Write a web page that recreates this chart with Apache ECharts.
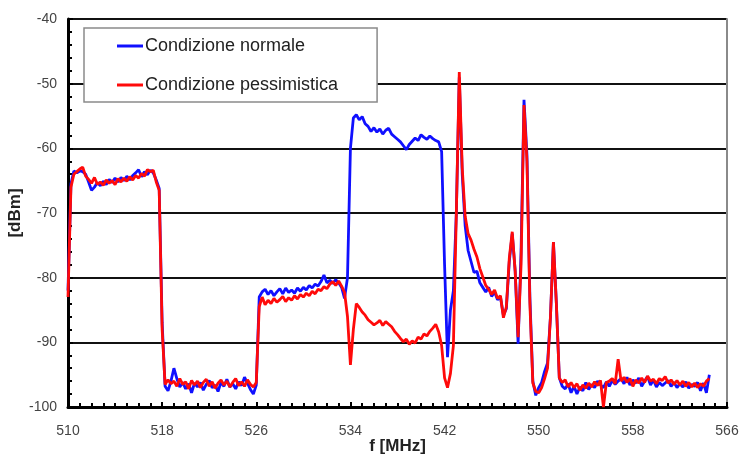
<!DOCTYPE html>
<html>
<head>
<meta charset="utf-8">
<script src="https://cdn.jsdelivr.net/npm/echarts@6/dist/echarts.min.js"></script>
<style>
html,body{margin:0;padding:0;background:#fff;}
#chart{width:741px;height:454px;}
</style>
</head>
<body>
<div id="chart"></div>
<script>
// Frequency axis values (MHz), step 0.25
var freqStart = 510, freqStep = 0.25;
var xTicks = [510, 518, 526, 534, 542, 550, 558, 566];
var yTicks = [-100, -90, -80, -70, -60, -50, -40];
var seriesNames = ['Condizione normale', 'Condizione pessimistica'];

// Condizione pessimistica (red)
var redVals = [
-83,-66,-64,-63.6,-63.2,-62.9,-64.3,-64.8,-65.4,-64.5,-65.6,-65.2,-65.7,-64.9,-65.4,-65.0,
-65.6,-64.7,-65.2,-64.6,-65.1,-64.4,-64.9,-64.2,-64.6,-63.9,-64.3,-63.3,-63.6,-63.4,-65.2,-66.5,
-88,-96.5,-95.8,-96.4,-96.0,-96.8,-95.6,-96.5,-96.1,-97.2,-95.9,-96.6,-96.0,-97.0,-96.2,-95.7,
-96.8,-96.1,-97.1,-96.3,-95.8,-96.6,-96.0,-96.9,-96.2,-95.6,-96.7,-96.1,-96.8,-95.8,-96.5,-96.9,
-96.2,-84.5,-83.0,-84.2,-83.5,-84.0,-83.2,-83.8,-83.4,-82.9,-83.7,-83.1,-83.5,-82.8,-83.3,-82.6,
-83.0,-82.4,-82.8,-82.1,-82.5,-81.8,-82.0,-81.4,-81.7,-81.0,-80.6,-81.2,-80.5,-81.3,-82.3,-86,
-93.5,-88,-84.0,-84.6,-85.3,-85.8,-86.5,-86.9,-87.3,-87.0,-86.6,-87.4,-86.8,-87.2,-87.6,-88.3,
-88.8,-89.4,-89.9,-89.5,-90.3,-89.8,-90.1,-89.2,-89.5,-88.7,-89.0,-88.3,-87.8,-87.2,-88.4,-90.5,
-95.5,-97.0,-94.8,-90.5,-70,-48.2,-63,-70.5,-73.2,-74.2,-75.6,-76.8,-78.6,-79.9,-81.2,-81.8,
-82.6,-81.9,-83.2,-82.8,-86.2,-84.5,-77,-72.9,-79,-89.2,-78,-53.3,-62,-84,-96.3,-97.6,
-97.8,-97.0,-95.6,-94.0,-86,-74.5,-84,-95.5,-96.2,-95.8,-96.9,-96.2,-97.0,-96.4,-97.4,-96.6,
-97.1,-96.3,-96.9,-96.1,-96.7,-95.9,-100,-96.2,-96.0,-95.6,-96.4,-92.6,-96.0,-95.4,-96.2,-95.6,
-96.8,-95.8,-96.3,-95.5,-96.2,-95.2,-96.0,-95.7,-96.4,-95.6,-95.9,-95.3,-96.3,-95.8,-96.5,-95.9,
-96.6,-96.0,-96.8,-96.2,-96.9,-96.3,-97.0,-96.4,-96.8,-96.0,-95.6
];

// Condizione normale (blue)
var blueVals = [
-82,-65.5,-63.5,-63.8,-63.5,-63.6,-64,-65.2,-66.5,-66,-65.3,-65.8,-65.1,-65.6,-64.8,-65.3,
-64.6,-65.2,-64.5,-65.0,-64.3,-64.9,-64.2,-63.8,-63.3,-64.4,-63.6,-64.1,-63.4,-63.8,-64.9,-66.2,
-87,-96.8,-97.5,-96.0,-94.0,-95.6,-96.9,-96.2,-97.2,-96.4,-97.8,-96.3,-96.9,-96.2,-97.4,-96.5,
-95.9,-97.0,-96.6,-97.6,-96.2,-96.8,-95.7,-96.9,-96.4,-97.2,-96.1,-96.7,-95.4,-96.3,-97.3,-98.0,
-96.6,-83,-82.2,-81.8,-82.6,-82.0,-82.8,-82.2,-81.7,-82.5,-81.6,-82.3,-81.9,-82.4,-81.6,-82.1,
-81.5,-81.9,-81.2,-81.6,-81.0,-81.3,-80.6,-79.6,-80.8,-80.4,-80.9,-80.3,-80.8,-81.5,-83.2,-80,
-60,-55.3,-54.8,-55.6,-55.1,-56.2,-56.6,-57.4,-56.8,-57.5,-57.0,-57.8,-57.2,-56.9,-57.8,-58.2,
-58.6,-59.0,-59.6,-60.2,-59.4,-58.9,-58.4,-58.8,-57.9,-58.3,-58.6,-58.1,-58.5,-58.8,-59.0,-60.5,
-78,-92.3,-85,-82,-70,-49,-64,-72,-75.8,-77.5,-79.2,-79.0,-80.8,-81.5,-82.2,-81.5,
-82.9,-82.2,-83.4,-83.0,-85.8,-84.8,-77.5,-73.2,-79,-90.2,-76,-52.5,-61,-83,-96.0,-98.2,
-97.0,-96.2,-94.5,-93.2,-86,-74.5,-84,-95.5,-96.8,-97.2,-96.4,-97.8,-96.8,-98.0,-96.9,-97.5,
-96.2,-97.3,-96.5,-97.0,-96.0,-96.6,-97.0,-96.1,-96.8,-95.9,-96.5,-96.0,-95.6,-96.4,-95.4,-96.6,
-95.8,-96.3,-95.5,-96.8,-96.0,-95.3,-96.6,-95.8,-96.9,-96.2,-96.7,-96.3,-95.9,-96.8,-96.2,-97.0,
-96.4,-96.9,-96.1,-97.1,-96.5,-96.8,-96.2,-97.5,-96.3,-97.8,-95.0
];

function pairs(vals){
  return vals.map(function(v,i){ return [freqStart + i*freqStep, v]; });
}

var chart = echarts.init(document.getElementById('chart'), null, {renderer:'canvas'});
var labelFont = {color:'#444', fontSize:14, fontFamily:'Liberation Sans, Arial, sans-serif'};
chart.setOption({
  animation:false,
  backgroundColor:'#fff',
  grid:{left:68, right:14, top:19, bottom:47, containLabel:false, outerBoundsMode:'none'},
  legend:{
    orient:'vertical', left:84, top:28,
    data:seriesNames,
    backgroundColor:'#fff', borderColor:'#8a8a8a', borderWidth:1.5,
    padding:[9,39,8,33], itemGap:21,
    icon:'rect', itemWidth:26, itemHeight:3,
    textStyle:{color:'#222', fontSize:18, fontFamily:'Liberation Sans, Arial, sans-serif', padding:[0,0,0,-3]}
  },
  xAxis:{
    type:'value', min:xTicks[0], max:xTicks[xTicks.length-1], interval:8,
    name:'f [MHz]', nameLocation:'middle', nameGap:39, nameMoveOverlap:false,
    nameTextStyle:{color:'#222', fontSize:17, fontWeight:'bold', fontFamily:'Liberation Sans, Arial, sans-serif', verticalAlign:'middle', padding:0},
    axisLine:{show:true, lineStyle:{color:'#000', width:3}},
    axisTick:{show:true, inside:true, length:5, lineStyle:{color:'#000', width:2}},
    minorTick:{show:true, splitNumber:8, length:4, lineStyle:{color:'#000', width:2}},
    axisLabel:Object.assign({margin:17}, labelFont),
    splitLine:{show:false}
  },
  yAxis:[{
    type:'value', min:yTicks[0], max:yTicks[yTicks.length-1], interval:10,
    name:'[dBm]', nameLocation:'middle', nameGap:53, nameRotate:90, nameMoveOverlap:false,
    nameTextStyle:{color:'#222', fontSize:17, fontWeight:'bold', fontFamily:'Liberation Sans, Arial, sans-serif', verticalAlign:'middle', padding:0},
    axisLine:{show:true, lineStyle:{color:'#000', width:3}},
    axisTick:{show:true, inside:true, length:5, lineStyle:{color:'#000', width:2}},
    minorTick:{show:true, splitNumber:5, length:4, lineStyle:{color:'#000', width:2}},
    axisLabel:Object.assign({margin:11}, labelFont),
    splitLine:{show:true, lineStyle:{color:'#111', width:2}}
  },{
    type:'value', min:yTicks[0], max:yTicks[yTicks.length-1], position:'right',
    axisLine:{show:true, onZero:false, lineStyle:{color:'#8a8a8a', width:2}},
    axisTick:{show:false}, axisLabel:{show:false}, splitLine:{show:false}
  }],
  series:[
    {name:seriesNames[0], type:'line', data:pairs(blueVals), symbol:'none', smooth:false,
     lineStyle:{color:'#1010ff', width:2.8}, itemStyle:{color:'#1010ff'}, z:2},
    {name:seriesNames[1], type:'line', data:pairs(redVals), symbol:'none', smooth:false,
     lineStyle:{color:'#ff0a0a', width:2.8}, itemStyle:{color:'#ff0a0a'}, z:3}
  ]
});
</script>
</body>
</html>
